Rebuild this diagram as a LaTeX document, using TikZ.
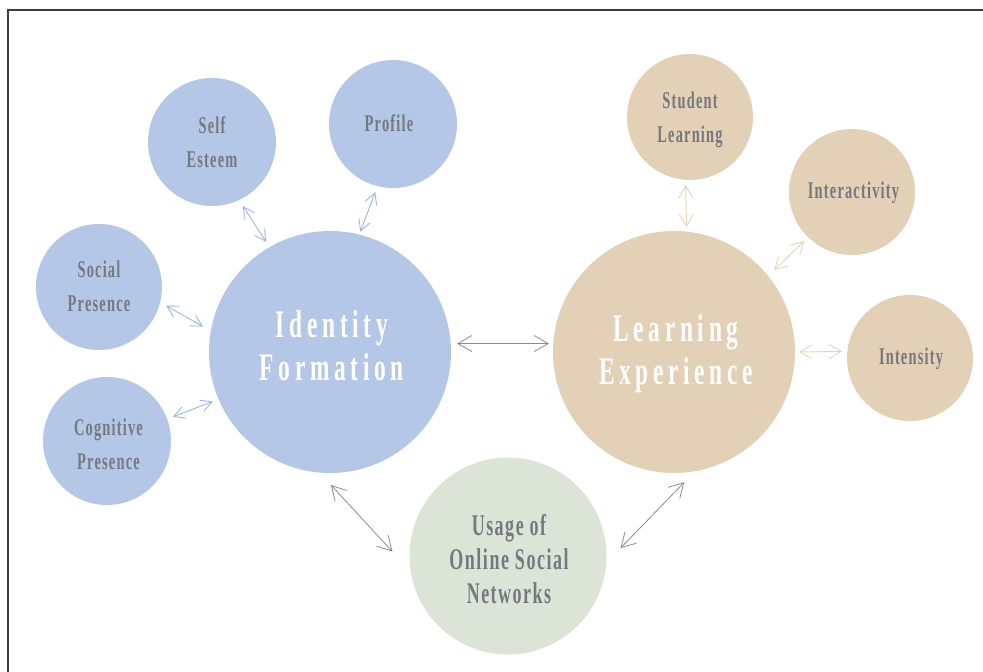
\documentclass[tikz,border=0pt]{standalone}
\usepackage{fontspec}
\usetikzlibrary{arrows.meta}
\newfontfamily\condf{Liberation Serif}[FakeStretch=0.6,LetterSpace=5]
\newfontfamily\condbigf{Liberation Serif}[FakeStretch=0.6,LetterSpace=12]
\definecolor{cblue}{RGB}{180,199,231}
\definecolor{ctan}{RGB}{226,209,183}
\definecolor{cgreen}{RGB}{220,228,216}
\definecolor{ctext}{RGB}{118,120,128}
\definecolor{arrblue}{RGB}{158,182,226}
\definecolor{arrtan}{RGB}{228,212,188}
\definecolor{arrgray}{RGB}{140,140,140}
\definecolor{cborder}{RGB}{60,60,60}
\tikzset{
  circ/.style={circle, inner sep=0pt, outer sep=0pt, draw=none},
  bluec/.style={circ, fill=cblue},
  tanc/.style={circ, fill=ctan},
  greenc/.style={circ, fill=cgreen},
  smalltxt/.style={text=ctext, align=center, inner sep=0pt, font={\condf\bfseries\fontsize{24pt}{34pt}\selectfont}},
  usgtxt/.style={text=ctext, align=center, inner sep=0pt, font={\condf\bfseries\fontsize{30pt}{34pt}\selectfont}},
  bigtxt/.style={text=white, align=center, inner sep=0pt, font={\condbigf\bfseries\fontsize{39pt}{43pt}\selectfont}},
  grayarr/.style={<->, >={Straight Barb[length=14pt,width=16pt]}, draw=arrgray, line width=0.8pt},
  bluearr/.style={<->, >={Straight Barb[length=11pt,width=12pt]}, draw=arrblue, line width=0.9pt},
  tanarr/.style={<->, >={Straight Barb[length=12pt,width=14pt]}, draw=arrtan, line width=0.9pt},
  borderline/.style={draw=cborder, line width=1.2pt}
}
\begin{document}
\begin{tikzpicture}[x=1pt,y=-1pt]
\useasboundingbox (0,0) rectangle (983,672);
\fill[white] (0,0) rectangle (983,672);
\draw[borderline] (8,672) -- (8,10) -- (983,10);

% circles
\node[bluec, minimum size=242pt] (idf) at (330,352) {};
\node[tanc, minimum size=242pt] (lex) at (674,352) {};
\node[greenc, minimum size=197pt] (usg) at (508,556) {};
\node[bluec, minimum size=128pt] (se) at (212,142) {};
\node[bluec, minimum size=128pt] (pr) at (393,124) {};
\node[bluec, minimum size=126pt] (sp) at (99,287) {};
\node[bluec, minimum size=128pt] (cp) at (107,441) {};
\node[tanc, minimum size=126pt] (stl) at (690,117) {};
\node[tanc, minimum size=126pt] (iac) at (852,192) {};
\node[tanc, minimum size=126pt] (ins) at (910,358) {};

% labels
\node[bigtxt] (idf-t) at (332,346) {Identity\\Formation};
\node[bigtxt] (lex-t) at (676,354) {Learning\\Experience};
\node[usgtxt] (usg-t) at (509,559.5) {Usage of\\Online Social\\Networks};
\node[smalltxt] (se-t) at (212,142) {Self\\Esteem};
\node[smalltxt] (pr-t) at (389,123) {Profile};
\node[smalltxt] (sp-t) at (99,286.5) {Social\\Presence};
\node[smalltxt] (cp-t) at (108.5,443.8) {Cognitive\\Presence};
\node[smalltxt] (stl-t) at (690,119.4) {Student\\Learning};
\node[smalltxt] (iac-t) at (853.5,193) {Interactivity};
\node[smalltxt] (ins-t) at (911,358.4) {Intensity};

% connectors
\draw[bluearr, shorten <=7.2pt, shorten >=6.3pt] (se.-65) -- (idf.120);
\draw[bluearr, shorten <=6.4pt, shorten >=3pt] (pr.256) -- (idf.76);
\draw[bluearr, shorten <=6.8pt, shorten >=9pt] (sp.-14) -- (idf.170);
\draw[bluearr, shorten <=6.2pt, shorten >=6.3pt] (cp.20) -- (idf.203);
\draw[grayarr, shorten <=6.3pt, shorten >=4.3pt] (idf.4) -- (lex.176);
\draw[grayarr, shorten <=17pt, shorten >=27pt] (idf.265) -- (usg.189);
\draw[grayarr, shorten <=20.3pt, shorten >=15.4pt] (usg.-4) -- (lex.-80);
\draw[tanarr, shorten <=5.1pt, shorten >=4.6pt] (stl.266) -- (lex.84);
\draw[tanarr, shorten <=5.6pt, shorten >=8.4pt] (iac.226) -- (lex.39);
\draw[tanarr, shorten <=5.4pt, shorten >=4pt] (ins.174) -- (lex.0);
\end{tikzpicture}
\end{document}
